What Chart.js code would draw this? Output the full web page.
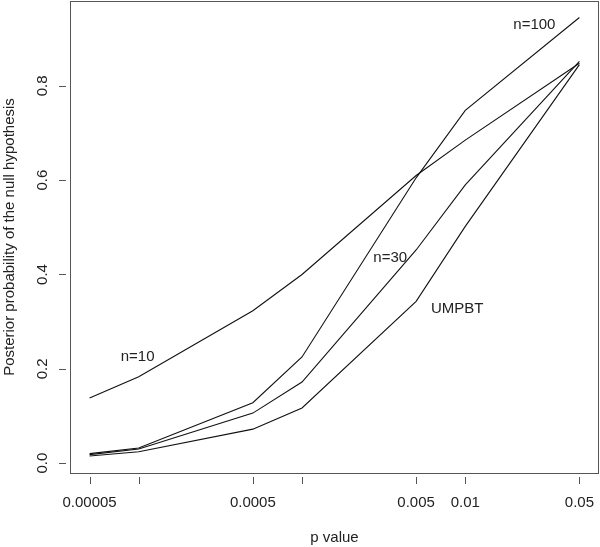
<!DOCTYPE html>
<html>
<head>
<meta charset="utf-8">
<script src="https://cdn.jsdelivr.net/npm/chart.js@4/dist/chart.umd.min.js"></script>
<style>
  html, body { margin: 0; padding: 0; background: #fff; }
  #wrap { width: 600px; height: 547px; }
</style>
</head>
<body>
<div id="wrap"><canvas id="chart"></canvas></div>
<script>
const pValues = [0.00005, 0.0001, 0.0005, 0.001, 0.005, 0.01, 0.05];
const n10 = [0.138, 0.183, 0.323, 0.400, 0.610, 0.685, 0.848];
const n30 = [0.018, 0.030, 0.106, 0.172, 0.452, 0.590, 0.852];
const n100 = [0.020, 0.032, 0.128, 0.225, 0.605, 0.748, 0.945];
const umpbt = [0.015, 0.024, 0.072, 0.117, 0.343, 0.502, 0.845];

const xTicks = [0.00005, 0.0001, 0.0005, 0.001, 0.005, 0.01, 0.05];
const xTickLabels = ['0.00005', '', '0.0005', '', '0.005', '0.01', '0.05'];
const yTicks = [0, 0.2, 0.4, 0.6, 0.8];

// curve labels, placed in data units
const curveNames = ['n=100', 'n=30', 'n=10', 'UMPBT'];
const curveNameX = [0.0265, 0.00347, 0.0000985, 0.00892];
const curveNameY = [0.929, 0.436, 0.226, 0.328];

const FONT = '15px "Liberation Sans", Arial, sans-serif';
const TEXT = '#222';
const AXIS = '#555';

function toPoints(ys) {
  return pValues.map((p, i) => ({ x: p, y: ys[i] }));
}

function lineSet(ys) {
  return {
    data: toPoints(ys),
    showLine: true,
    borderColor: '#111',
    borderWidth: 1.1,
    pointRadius: 0,
    tension: 0
  };
}

const rFrame = {
  id: 'rFrame',
  afterDraw(chart) {
    const ctx = chart.ctx;
    const area = chart.chartArea;
    const xs = chart.scales.x;
    const ys = chart.scales.y;
    ctx.save();
    ctx.strokeStyle = AXIS;
    ctx.lineWidth = 1;
    ctx.strokeRect(area.left + 0.5, area.top + 0.5, area.right - area.left - 1, area.bottom - area.top);

    // tick marks, detached from the box like R does
    ctx.beginPath();
    xTicks.forEach(v => {
      const px = Math.round(xs.getPixelForValue(v)) + 0.5;
      ctx.moveTo(px, area.bottom + 4);
      ctx.lineTo(px, area.bottom + 11);
    });
    yTicks.forEach(v => {
      const py = Math.round(ys.getPixelForValue(v)) + 0.5;
      ctx.moveTo(area.left - 4, py);
      ctx.lineTo(area.left - 11, py);
    });
    ctx.stroke();

    ctx.fillStyle = TEXT;
    ctx.font = FONT;
    ctx.textAlign = 'center';
    ctx.textBaseline = 'middle';

    // y tick labels, rotated
    yTicks.forEach(v => {
      const py = ys.getPixelForValue(v);
      ctx.save();
      ctx.translate(area.left - 27, py);
      ctx.rotate(-Math.PI / 2);
      ctx.fillText(v.toFixed(1), 0, 0);
      ctx.restore();
    });

    // axis titles
    ctx.fillText('p value', (area.left + area.right) / 2, 538);
    ctx.save();
    ctx.translate(10, (area.top + area.bottom) / 2);
    ctx.rotate(-Math.PI / 2);
    ctx.fillText('Posterior probability of the null hypothesis', 0, 0);
    ctx.restore();

    // curve labels
    curveNames.forEach((name, i) => {
      ctx.fillText(name, xs.getPixelForValue(curveNameX[i]), ys.getPixelForValue(curveNameY[i]));
    });
    ctx.restore();
  }
};

new Chart(document.querySelector('#chart'), {
  type: 'scatter',
  data: {
    datasets: [lineSet(n10), lineSet(n30), lineSet(n100), lineSet(umpbt)]
  },
  options: {
    responsive: true,
    maintainAspectRatio: false,
    animation: false,
    layout: { padding: { top: 1, right: 1, left: 0, bottom: 0 } },
    plugins: { legend: { display: false }, tooltip: { enabled: false } },
    scales: {
      x: {
        type: 'logarithmic',
        min: Math.pow(10, -4.421),
        max: Math.pow(10, -1.181),
        grid: { display: false, drawTicks: false },
        border: { display: false },
        afterBuildTicks: scale => { scale.ticks = xTicks.map(v => ({ value: v })); },
        afterFit: scale => {
          scale.height = 74;
          scale.paddingLeft = 0;
          scale.paddingRight = 0;
        },
        ticks: {
          autoSkip: false,
          maxRotation: 0,
          minRotation: 0,
          padding: 21,
          color: TEXT,
          font: { family: '"Liberation Sans", Arial, sans-serif', size: 15 },
          callback: (value, index) => xTickLabels[index]
        }
      },
      y: {
        min: -0.021,
        max: 0.980,
        grid: { display: false, drawTicks: false },
        border: { display: false },
        afterFit: scale => { scale.width = 70; },
        ticks: { display: false }
      }
    }
  },
  plugins: [rFrame]
});
</script>
</body>
</html>
